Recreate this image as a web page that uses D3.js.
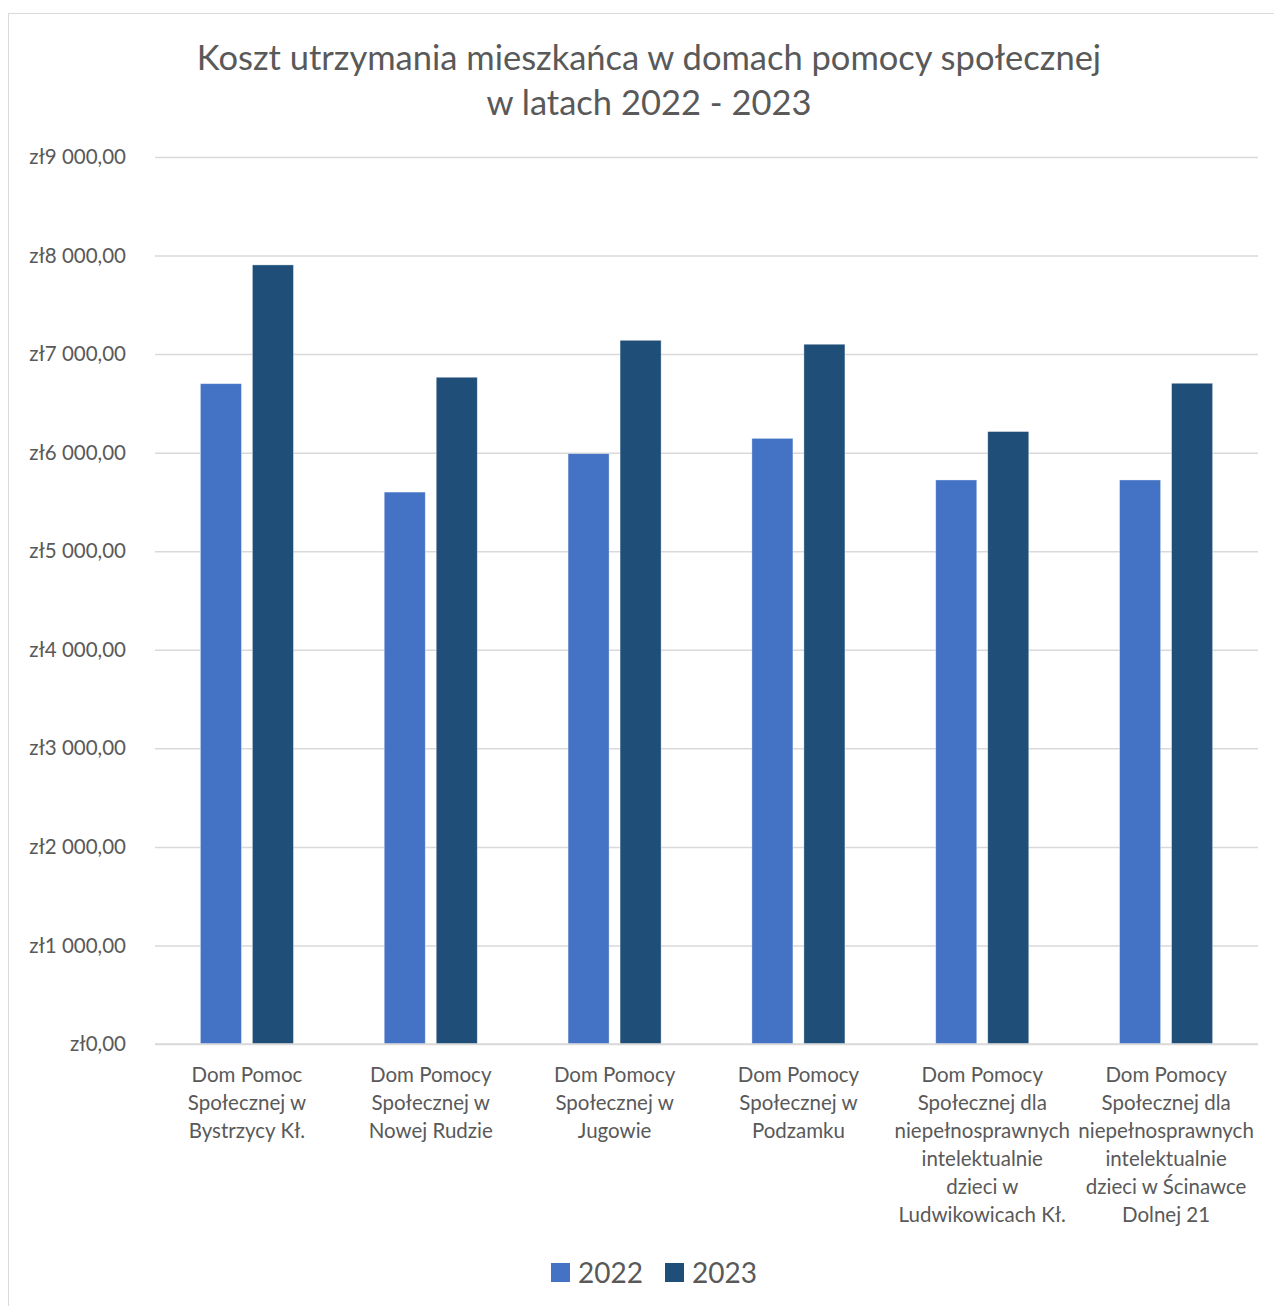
<!DOCTYPE html>
<html>
<head>
<meta charset="utf-8">
<script src="https://cdn.jsdelivr.net/npm/d3@7"></script>
<style>
  html, body { margin: 0; padding: 0; background: #fff; }
  svg { display: block; }
  text { font-family: Lato, "Open Sans", sans-serif; fill: #595959; }
</style>
</head>
<body>
<svg id="chart" width="1274" height="1306"></svg>
<script>
const titleLines = ["Koszt utrzymania mieszkańca w domach pomocy społecznej", "w latach 2022 - 2023"];
const categories = [
  ["Dom Pomoc", "Społecznej w", "Bystrzycy Kł."],
  ["Dom Pomocy", "Społecznej w", "Nowej Rudzie"],
  ["Dom Pomocy", "Społecznej w", "Jugowie"],
  ["Dom Pomocy", "Społecznej w", "Podzamku"],
  ["Dom Pomocy", "Społecznej dla", "niepełnosprawnych", "intelektualnie", "dzieci w", "Ludwikowicach Kł."],
  ["Dom Pomocy", "Społecznej dla", "niepełnosprawnych", "intelektualnie", "dzieci w Ścinawce", "Dolnej 21"]
];
const seriesNames = ["2022", "2023"];
const values2022 = [6700, 5600, 5990, 6145, 5723, 5723];
const values2023 = [7905, 6765, 7140, 7100, 6214, 6704];
const tickValues = [0, 1000, 2000, 3000, 4000, 5000, 6000, 7000, 8000, 9000];
const tickLabels = ["zł0,00", "zł1 000,00", "zł2 000,00", "zł3 000,00", "zł4 000,00", "zł5 000,00", "zł6 000,00", "zł7 000,00", "zł8 000,00", "zł9 000,00"];
const colors = ["#4472C4", "#1F4E79"];

const svg = d3.select("#chart");
const plot = { left: 155, right: 1258, top: 157, bottom: 1044 };

// chart border
svg.append("rect")
  .attr("x", 8.5).attr("y", 13.5)
  .attr("width", 1290).attr("height", 1310)
  .attr("fill", "#fff").attr("stroke", "#d9d9d9").attr("stroke-width", 1);

// title
const title = svg.append("text")
  .attr("text-anchor", "middle")
  .style("font-size", "34.5px");
title.selectAll("tspan").data(titleLines).join("tspan")
  .attr("x", 649)
  .attr("y", (d, i) => 70 + i * 45)
  .text(d => d);

const y = d3.scaleLinear().domain([0, 9000]).range([plot.bottom, plot.top]);
const x0 = d3.scaleBand().domain(d3.range(categories.length))
  .range([plot.left, plot.right]).paddingInner(0.494).paddingOuter(0.247);
const x1 = d3.scaleBand().domain(seriesNames)
  .range([0, x0.bandwidth()]).paddingInner(0.2115).paddingOuter(0);

// gridlines + y labels via axis
const yAxis = d3.axisLeft(y)
  .tickValues(tickValues)
  .tickSize(-(plot.right - plot.left))
  .tickPadding(29)
  .tickFormat((d, i) => tickLabels[i]);
const gY = svg.append("g").attr("transform", `translate(${plot.left},0)`).call(yAxis);
gY.select(".domain").remove();
gY.selectAll(".tick line").attr("stroke", "#d9d9d9").attr("stroke-width", 1.5);
gY.selectAll(".tick text").style("font-size", "20.5px").attr("fill", "#595959")
  .style("font-family", "Lato, 'Open Sans', sans-serif");

// bars
const data = categories.map((c, i) => ({ i, vals: [values2022[i], values2023[i]] }));
const groups = svg.append("g").selectAll("g").data(data).join("g")
  .attr("transform", d => `translate(${x0(d.i)},0)`);
groups.selectAll("rect").data(d => d.vals.map((v, k) => ({ v, k })))
  .join("rect")
  .attr("x", d => x1(seriesNames[d.k]))
  .attr("y", d => y(d.v))
  .attr("width", x1.bandwidth())
  .attr("height", d => y(0) - y(d.v))
  .attr("fill", d => colors[d.k])
  .attr("stroke", "rgba(255,255,255,0.45)")
  .attr("stroke-width", 0.75);

// baseline redraw on top
svg.append("line")
  .attr("x1", plot.left).attr("x2", plot.right)
  .attr("y1", y(0)).attr("y2", y(0))
  .attr("stroke", "#d9d9d9").attr("stroke-width", 1.5);

// category labels via bottom axis
const xAxis = d3.axisBottom(x0).tickSize(0).tickFormat("");
const gX = svg.append("g").attr("transform", `translate(0,${plot.bottom})`).call(xAxis);
gX.select(".domain").remove();
gX.selectAll(".tick").each(function(d) {
  const t = d3.select(this).append("text")
    .attr("text-anchor", "middle")
    .style("font-size", "20.5px")
    .attr("fill", "#595959");
  t.selectAll("tspan").data(categories[d]).join("tspan")
    .attr("x", 0)
    .attr("y", (s, j) => 38 + j * 28)
    .text(s => s);
});

// legend
const legend = svg.append("g");
const legendX = [551, 665];
seriesNames.forEach((s, k) => {
  legend.append("rect")
    .attr("x", legendX[k]).attr("y", 1263)
    .attr("width", 19).attr("height", 19)
    .attr("fill", colors[k]);
  legend.append("text")
    .attr("x", legendX[k] + 27).attr("y", 1283)
    .style("font-size", "28px")
    .text(s);
});
</script>
</body>
</html>
